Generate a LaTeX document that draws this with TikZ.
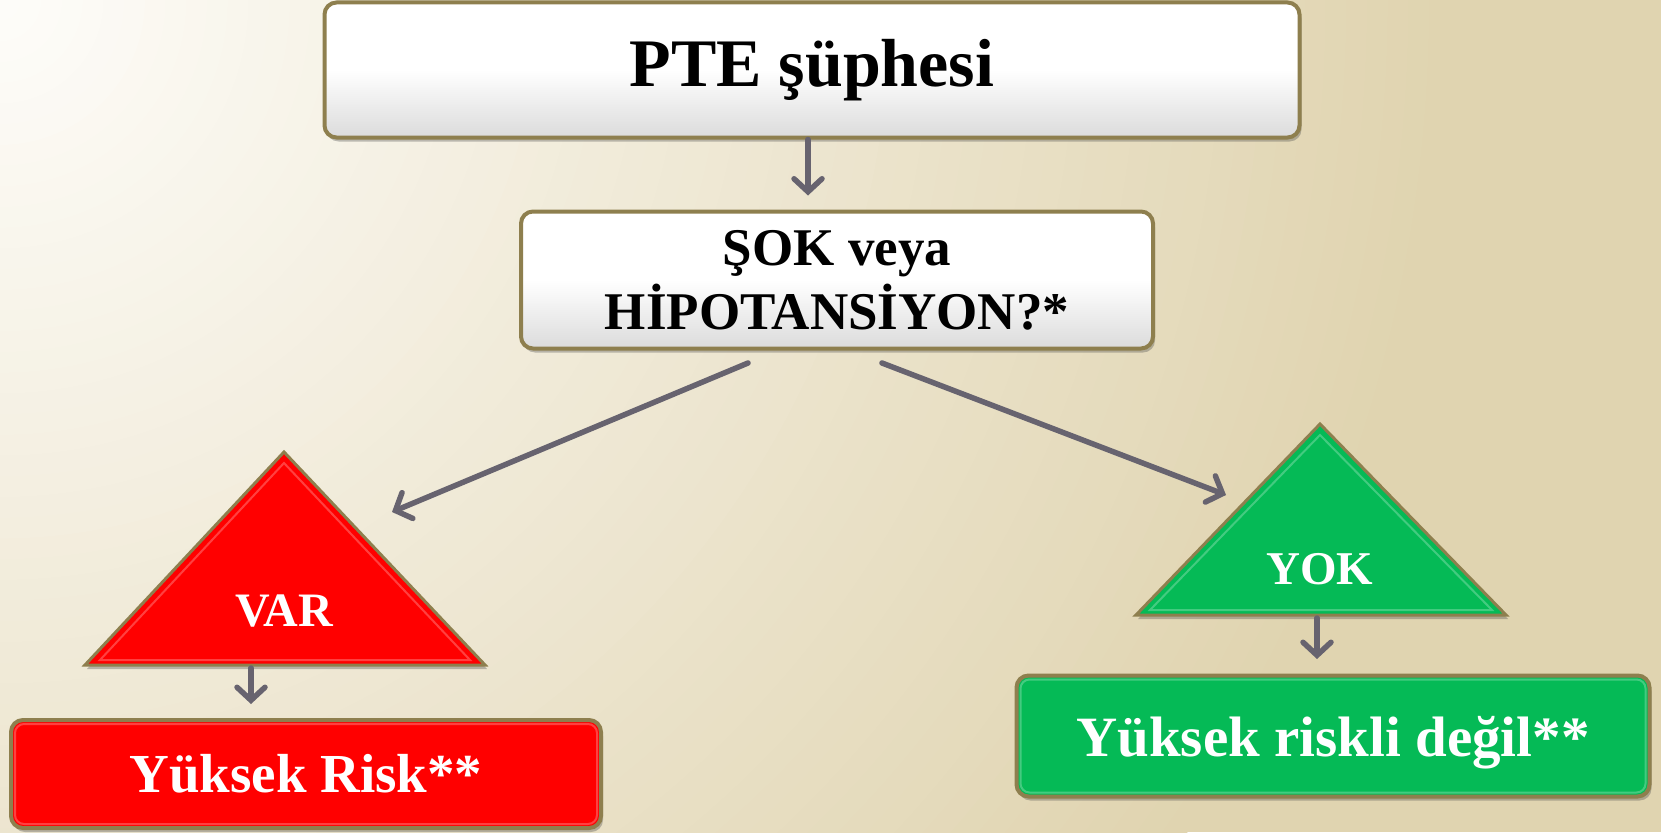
\documentclass[tikz,border=0pt]{standalone}
\usepackage{fontspec}
\setmainfont{Liberation Serif}
\usetikzlibrary{arrows.meta,shadows}
\definecolor{bgA}{HTML}{FEFDFA}
\definecolor{bgB}{HTML}{E0D4B0}
\definecolor{rim}{HTML}{8E7F4E}
\definecolor{connc}{HTML}{67636F}
\definecolor{redF}{HTML}{FF0000}
\definecolor{greenF}{HTML}{05BA56}
\begin{document}
\begin{tikzpicture}[x=1pt,y=-1pt,
  conn/.style={draw=connc, line width=5.5pt, line cap=round,
    -{Straight Barb[length=13pt,width=28pt,line cap=round]}},
  shad/.style={drop shadow={shadow xshift=2pt,shadow yshift=-4pt,opacity=0.35,fill=black!70}},
  whitebox/.style={shad, rounded corners=12pt, draw=rim, line width=4pt,
    top color=white, bottom color=black!14, middle color=white, inner sep=0pt,
    text=black, align=center},
  colbox/.style={shad, rounded corners=12pt, draw=rim, line width=4pt, inner sep=0pt,
    text=white, align=center},
  tri/.style={shad, draw=rim, line width=3pt, line join=miter},
  bevel/.style={draw=white, line width=2pt, opacity=0.25, line join=miter},
  trilabel/.style={text=white, inner sep=0pt}]
\useasboundingbox (0,0) rectangle (1661,832);
\begin{scope}
  \clip (0,0) rectangle (1661,832);
  \fill[bgB] (0,0) rectangle (1661,832);
  \foreach \i in {70,...,1}{
    \pgfmathsetmacro\pc{100*\i/70}
    \pgfmathsetmacro\rr{\i*20.714}
    \fill[bgB!\pc!bgA] (0,0) circle (\rr);
  }
\end{scope}
% boxes
\node[whitebox, minimum width=975pt, minimum height=135pt,
  font=\fontsize{68}{80}\selectfont\bfseries] (pte) at (812,70) {PTE şüphesi};
\node[whitebox, minimum width=632pt, minimum height=137pt,
  font=\fontsize{53}{64}\selectfont\bfseries] (sok) at (837,280) {ŞOK veya\\HİPOTANSİYON?*};
% triangles
\filldraw[tri, fill=redF] (284,452) -- (485,665) -- (85,665) -- cycle;
\draw[bevel] (284,463) -- (470,660) -- (100,660) -- cycle;
\filldraw[tri, fill=greenF] (1320,424) -- (1506,615) -- (1136,615) -- cycle;
\draw[bevel] (1320,435) -- (1492,610) -- (1150,610) -- cycle;
\node[trilabel, font=\fontsize{48}{50}\selectfont\bfseries] (var) at (284,611) {VAR};
\node[trilabel, font=\fontsize{47}{50}\selectfont\bfseries] (yok) at (1320,569) {YOK};
\node[colbox, fill=redF, minimum width=590pt, minimum height=108pt,
  font=\fontsize{55}{60}\selectfont\bfseries] (high) at (306,774) {Yüksek Risk**};
\draw[bevel, rounded corners=9pt] ([shift={(6pt,-6pt)}]high.north west) rectangle ([shift={(-6pt,6pt)}]high.south east);
\node[colbox, fill=greenF, minimum width=633pt, minimum height=121pt, text depth=0pt,
  font=\fontsize{57}{60}\selectfont\bfseries] (low) at (1333,736) {Yüksek riskli değil**};
\draw[bevel, rounded corners=9pt] ([shift={(6pt,-6pt)}]low.north west) rectangle ([shift={(-6pt,6pt)}]low.south east);
% connector end points
\coordinate (sokL) at (748,363);
\coordinate (sokR) at (882,363);
\coordinate (varIn) at (392,512);
\coordinate (yokIn) at (1226,495);
\coordinate (varOut) at (251,668);
\coordinate (highIn) at (251,704);
\coordinate (yokOut) at (1317,618);
\coordinate (lowIn) at (1317,659);
% connectors
\draw[conn] (pte.south -| 808,0) -- ([yshift=14pt]sok.north -| 808,0);
\draw[conn] (sokL) -- (varIn);
\draw[conn] (sokR) -- (yokIn);
\draw[conn] (varOut) -- (highIn);
\draw[conn] (yokOut) -- (lowIn);
\end{tikzpicture}
\end{document}
